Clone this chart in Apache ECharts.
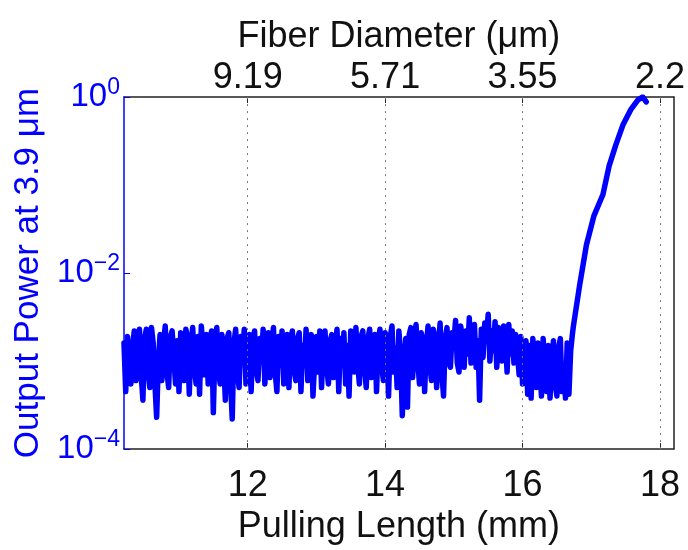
<!DOCTYPE html>
<html>
<head>
<meta charset="utf-8">
<script src="https://cdn.jsdelivr.net/npm/echarts@6/dist/echarts.min.js"></script>
<style>
html,body{margin:0;padding:0;background:#fff;}
#chart{width:688px;height:550px;}
</style>
</head>
<body>
<div id="chart"></div>
<script>
// ---- data ----
const noiseStart = 10.2;      // mm, first sample of the flat (noisy) region
const noiseStep = 0.025;      // mm between samples
const noisePower = [
  1.6e-3,0.45e-3,1.9e-3,2.0e-3,0.55e-3,1.5e-3,2.2e-3,0.6e-3,1.7e-3,2.3e-3,
  0.7e-3,0.36e-3,1.8e-3,2.3e-3,0.8e-3,0.5e-3,2.4e-3,1.6e-3,0.55e-3,0.23e-3,
  1.0e-3,2.0e-3,0.6e-3,1.6e-3,2.5e-3,0.75e-3,0.5e-3,1.9e-3,2.2e-3,1.1e-3,
  0.55e-3,1.7e-3,0.45e-3,2.1e-3,1.5e-3,0.6e-3,2.3e-3,1.8e-3,0.42e-3,1.6e-3,
  2.4e-3,0.8e-3,0.55e-3,1.9e-3,0.42e-3,2.5e-3,1.4e-3,0.7e-3,2.0e-3,0.55e-3,
  1.7e-3,2.2e-3,0.26e-3,1.5e-3,2.4e-3,0.75e-3,0.55e-3,2.0e-3,1.0e-3,0.36e-3,
  1.8e-3,2.1e-3,0.6e-3,0.22e-3,1.6e-3,2.3e-3,0.75e-3,0.5e-3,1.9e-3,1.1e-3,
  2.3e-3,0.55e-3,0.9e-3,2.0e-3,0.45e-3,1.7e-3,2.2e-3,0.8e-3,0.6e-3,1.8e-3,
  1.0e-3,2.3e-3,0.55e-3,1.6e-3,2.1e-3,0.65e-3,1.5e-3,2.4e-3,0.75e-3,0.45e-3,
  1.9e-3,0.9e-3,2.2e-3,0.55e-3,1.4e-3,2.0e-3,0.5e-3,1.7e-3,2.2e-3,0.8e-3,
  0.6e-3,1.8e-3,2.1e-3,0.45e-3,1.5e-3,0.9e-3,2.3e-3,0.6e-3,1.6e-3,2.0e-3,
  0.4e-3,1.0e-3,1.9e-3,0.75e-3,2.2e-3,0.5e-3,1.6e-3,2.2e-3,0.85e-3,0.55e-3,
  1.7e-3,2.0e-3,0.65e-3,1.4e-3,2.3e-3,0.45e-3,1.8e-3,0.9e-3,2.1e-3,0.55e-3,
  1.5e-3,0.4e-3,2.2e-3,1.6e-3,0.75e-3,2.4e-3,1.0e-3,0.55e-3,1.9e-3,2.2e-3,
  0.85e-3,0.5e-3,1.8e-3,2.3e-3,0.65e-3,1.5e-3,2.0e-3,0.45e-3,1.7e-3,2.3e-3,
  0.9e-3,0.6e-3,2.1e-3,1.6e-3,0.4e-3,1.9e-3,2.5e-3,0.75e-3,1.4e-3,0.5e-3,
  2.2e-3,1.2e-3,0.24e-3,0.85e-3,1.8e-3,0.3e-3,2.0e-3,2.4e-3,0.65e-3,1.6e-3,
  2.6e-3,1.0e-3,0.55e-3,2.1e-3,1.7e-3,0.45e-3,1.5e-3,2.5e-3,0.9e-3,0.6e-3,
  2.3e-3,1.9e-3,0.5e-3,1.4e-3,2.7e-3,0.75e-3,0.4e-3,1.8e-3,2.4e-3,1.0e-3,
  0.85e-3,2.1e-3,1.6e-3,2.9e-3,0.95e-3,0.75e-3,2.5e-3,1.8e-3,0.85e-3,2.2e-3,
  1.2e-3,3.1e-3,0.95e-3,2.0e-3,2.6e-3,0.85e-3,1.7e-3,0.36e-3,2.3e-3,1.1e-3,
  2.7e-3,1.9e-3,3.4e-3,1.0e-3,2.2e-3,1.3e-3,2.8e-3,0.85e-3,2.4e-3,1.8e-3,
  1.0e-3,2.5e-3,2.0e-3,0.75e-3,2.6e-3,1.2e-3,2.2e-3,0.95e-3,2.0e-3,1.3e-3,
  0.7e-3,1.9e-3,0.55e-3,1.4e-3,1.7e-3,0.42e-3,1.5e-3,0.38e-3,1.8e-3,0.9e-3,
  0.5e-3,1.6e-3,1.0e-3,0.4e-3,1.8e-3,0.75e-3,0.45e-3,1.5e-3,0.38e-3,0.95e-3,
  1.7e-3,0.55e-3,0.4e-3,1.4e-3,1.8e-3,0.45e-3,0.85e-3,0.38e-3,1.6e-3,0.42e-3,
  1.3e-3,2.0e-3
];
// steep rise after the flat region
const riseLength = [16.74, 16.83, 16.93, 17.04, 17.17, 17.26, 17.36, 17.46, 17.58, 17.68, 17.75, 17.80];
const risePower  = [2.5e-3, 7.2e-3, 0.021, 0.045, 0.078, 0.165, 0.29, 0.48, 0.73, 0.93, 1.0, 0.88];

const lengthTicks = [12, 14, 16, 18];                 // mm
const diameterLabels = ['9.19', '5.71', '3.55', '2.2']; // µm at those lengths

// ---- build series data ----
const seriesData = [];
noisePower.forEach((v, i) => seriesData.push([+(noiseStart + i * noiseStep).toFixed(3), v]));
riseLength.forEach((x, i) => seriesData.push([x, risePower[i]]));

const FONT = 'Liberation Sans, Arial, sans-serif';
const BLUE = '#0000ff';

const chart = echarts.init(document.getElementById('chart'), null, {renderer: 'canvas'});
chart.setOption({
  animation: false,
  backgroundColor: '#fff',
  grid: {left: 124, right: 10, top: 97, bottom: 80, containLabel: false},
  xAxis: [
    {
      type: 'value', min: 10.2, max: 18.2, position: 'bottom',
      name: 'Pulling Length (mm)', nameLocation: 'middle', nameGap: 44,
      nameTextStyle: {color: '#111', fontSize: 36, fontFamily: FONT},
      axisLine: {show: true, onZero: false, lineStyle: {color: '#222', width: 1.5}},
      axisTick: {show: true, inside: true, length: 6, customValues: lengthTicks, lineStyle: {color: '#222'}},
      axisLabel: {show: true, customValues: lengthTicks, color: '#111', fontSize: 36, fontFamily: FONT, margin: 19,
                  formatter: v => String(v)},
      splitLine: {show: false}
    },
    {
      type: 'value', min: 10.2, max: 18.2, position: 'top',
      name: 'Fiber Diameter (μm)', nameLocation: 'middle', nameGap: 42,
      nameTextStyle: {color: '#111', fontSize: 36, fontFamily: FONT},
      axisLine: {show: true, onZero: false, lineStyle: {color: '#222', width: 1.5}},
      axisTick: {show: true, inside: true, length: 6, customValues: lengthTicks, lineStyle: {color: '#222'}},
      axisLabel: {show: true, customValues: lengthTicks, color: '#111', fontSize: 36, fontFamily: FONT, margin: 1,
                  formatter: v => diameterLabels[lengthTicks.indexOf(Math.round(v))] || ''},
      splitLine: {show: false}
    }
  ],
  yAxis: [
    {
      type: 'log', logBase: 10, min: 1e-4, max: 1, interval: 2, position: 'left',
      name: 'Output Power at 3.9 μm', nameLocation: 'middle', nameGap: 76, nameRotate: 90,
      nameTextStyle: {color: BLUE, fontSize: 35, fontFamily: FONT},
      axisLine: {show: true, onZero: false, lineStyle: {color: BLUE, width: 1.5}},
      axisTick: {show: true, inside: true, length: 6, lineStyle: {color: BLUE}},
      axisLabel: {
        color: BLUE, fontSize: 33, fontFamily: FONT, margin: 4,
        formatter: v => '10{s|' + String(Math.round(Math.log10(v))).replace('-', '\u2212') + '}',
        rich: {s: {fontSize: 23, fontFamily: FONT, color: BLUE, verticalAlign: 'top', padding: [0, 0, 18, 0]}}
      },
      splitLine: {show: false}
    },
    {
      type: 'log', logBase: 10, min: 1e-4, max: 1, position: 'right',
      axisLine: {show: true, onZero: false, lineStyle: {color: '#222', width: 1.5}},
      axisTick: {show: false}, axisLabel: {show: false}, splitLine: {show: false}
    }
  ],
  series: [
    {
      type: 'line', xAxisIndex: 0, yAxisIndex: 0, z: 1, silent: true,
      data: [],
      markLine: {
        silent: true, symbol: 'none', label: {show: false},
        lineStyle: {type: [2, 5], color: '#777', width: 1},
        data: lengthTicks.map(t => ({xAxis: t}))
      }
    },
    {
      type: 'line', xAxisIndex: 0, yAxisIndex: 0, z: 3,
      data: seriesData, showSymbol: false, smooth: false,
      lineStyle: {color: BLUE, width: 5.5, join: 'round', cap: 'round'}
    }
  ]
});
</script>
</body>
</html>
